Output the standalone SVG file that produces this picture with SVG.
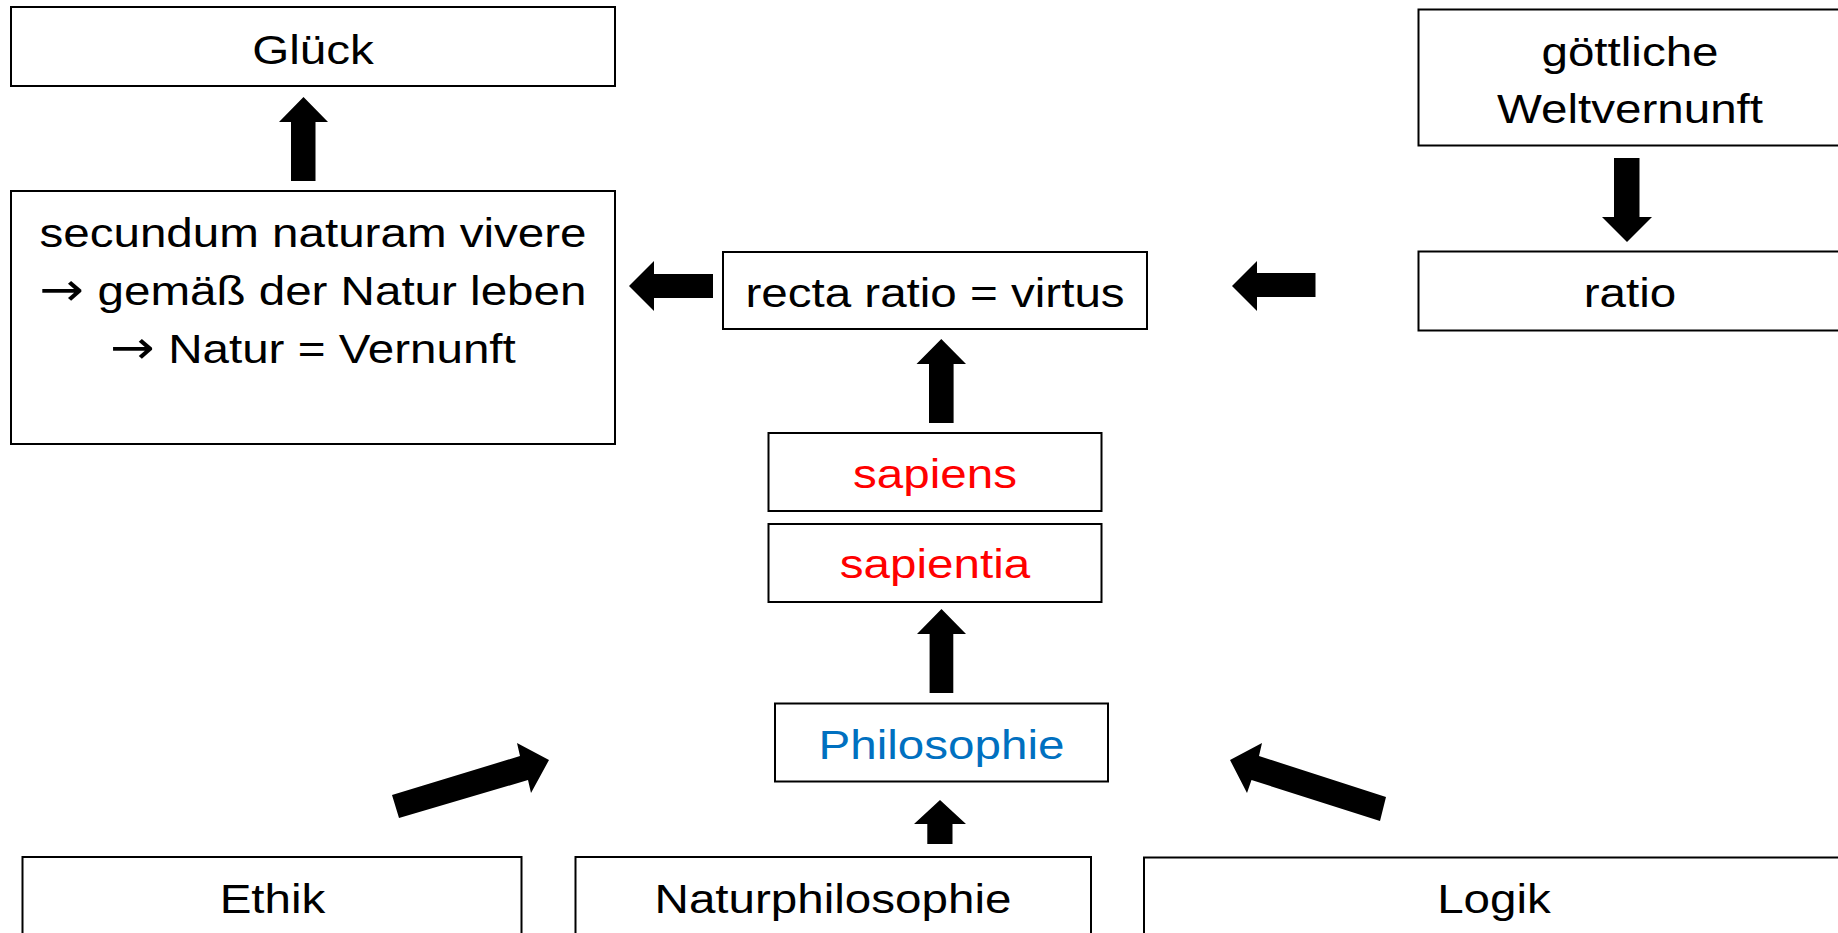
<svg xmlns="http://www.w3.org/2000/svg" width="1838" height="933" viewBox="0 0 1838 933">
<style>
.box{fill:#fff;stroke:#000;stroke-width:2}
.t{font-family:"Liberation Sans",Arial,sans-serif;font-size:41px;fill:#000;text-anchor:middle}
.sym{font-family:"DejaVu Sans",sans-serif;font-size:46px}
.red{fill:#FF0000}
.blue{fill:#0070C0}
.arr{fill:#000;stroke:none}
</style>
<rect width="1838" height="933" fill="#fff"/>
<g id="glueck"><rect class="box" x="11" y="7" width="604" height="79"/><text class="t" transform="translate(313,64) scale(1.16,1)">Glück</text></g>
<g id="secundum"><rect class="box" x="11" y="191" width="604" height="253"/>
<text class="t" transform="translate(313,247) scale(1.16,1)">secundum naturam vivere</text>
<text class="t" transform="translate(313,305) scale(1.16,1)"><tspan class="sym">→</tspan> gemäß der Natur leben</text>
<text class="t" transform="translate(313,363) scale(1.16,1)"><tspan class="sym">→</tspan> Natur = Vernunft</text></g>
<g id="recta"><rect class="box" x="723" y="252" width="424" height="77"/><text class="t" transform="translate(935,307) scale(1.16,1)">recta ratio = virtus</text></g>
<g id="sapiens"><rect class="box" x="768.5" y="433" width="333" height="78"/><text class="t red" transform="translate(935,488) scale(1.16,1)">sapiens</text></g>
<g id="sapientia"><rect class="box" x="768.5" y="524" width="333" height="78"/><text class="t red" transform="translate(935,578) scale(1.16,1)">sapientia</text></g>
<g id="philosophie"><rect class="box" x="775" y="703.5" width="333" height="78"/><text class="t blue" transform="translate(941.5,759) scale(1.16,1)">Philosophie</text></g>
<g id="goettliche"><rect class="box" x="1418.5" y="9.5" width="430" height="136"/>
<text class="t" transform="translate(1630,66) scale(1.16,1)">göttliche</text>
<text class="t" transform="translate(1630,123) scale(1.16,1)">Weltvernunft</text></g>
<g id="ratio"><rect class="box" x="1418.5" y="251.5" width="430" height="79"/><text class="t" transform="translate(1630,307) scale(1.16,1)">ratio</text></g>
<g id="ethik"><rect class="box" x="22.5" y="857" width="499" height="100"/><text class="t" transform="translate(272.5,913) scale(1.16,1)">Ethik</text></g>
<g id="naturphilosophie"><rect class="box" x="575.5" y="857" width="515.5" height="100"/><text class="t" transform="translate(833,913) scale(1.16,1)">Naturphilosophie</text></g>
<g id="logik"><rect class="box" x="1144" y="857.5" width="710" height="100"/><text class="t" transform="translate(1494,913) scale(1.16,1)">Logik</text></g>
<g id="connectors">
<polygon class="arr" points="303.5,97 328,122 315.5,122 315.5,181 291,181 291,122 279,122"/>
<polygon class="arr" points="629,286 654,261 654,274 713,274 713,298 654,298 654,311"/>
<polygon class="arr" points="941.3,339 966,364 953.6,364 953.6,423 929,423 929,364 916.5,364"/>
<polygon class="arr" points="941.5,609 966,634 953.3,634 953.3,693 929.6,693 929.6,634 917,634"/>
<polygon class="arr" points="940,800 966,824 952.5,824 952.5,844 927.3,844 927.3,824 914,824"/>
<polygon class="arr" points="1627,242 1652,217 1639.5,217 1639.5,158 1614,158 1614,217 1602,217"/>
<polygon class="arr" points="1232,286 1257,261 1257,273 1315.5,273 1315.5,297 1257,297 1257,311"/>
<polygon class="arr" points="392,795 520,756 517,743 549,760 531,793 528,780 399,818"/>
<polygon class="arr" points="1386,797 1259,756 1262,743 1230,760 1247,793 1251.5,780 1380,821"/>
</g>
</svg>
